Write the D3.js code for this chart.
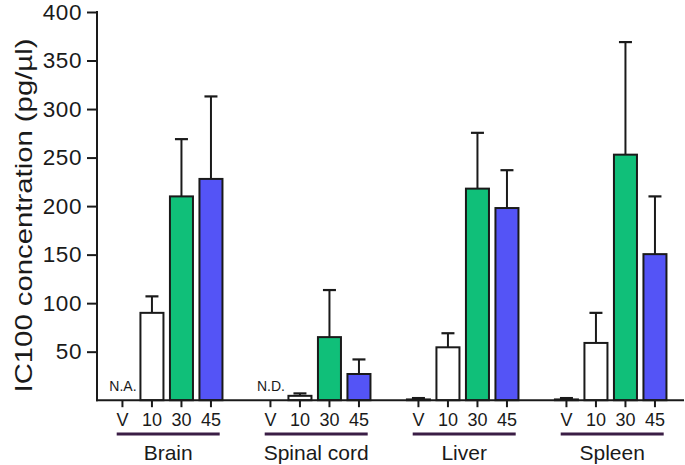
<!DOCTYPE html>
<html><head><meta charset="utf-8">
<script src="https://d3js.org/d3.v7.min.js"></script>
<style>body{margin:0;background:#fff;}svg{display:block;font-family:"Liberation Sans",Arial,sans-serif;}</style>
</head><body><svg id="c" width="685" height="465"></svg>
<script>
const groups = ["Brain", "Spinal cord", "Liver", "Spleen"];
const doses = ["V", "10", "30", "45"];
const doseColors = ["#ffffff", "#ffffff", "#10bf79", "#5454f6"];
// null = not available / not detected
const means = [
  [null, 90, 210, 228],
  [null, 4.5, 65, 27],
  [0.8, 54.5, 218, 198],
  [0.8, 59, 253, 150.5]
];
const errTops = [
  [null, 107, 269, 313],
  [null, 7, 113.5, 42],
  [2.2, 69, 275.5, 237],
  [2.2, 90, 369, 210]
];
const naLabels = ["N.A.", "N.D.", null, null];
const yTicks = [50, 100, 150, 200, 250, 300, 350, 400];
const yLabel = "IC100 concentration (pg/\u00b5l)";

const svg = d3.select("#c");
const y = d3.scaleLinear().domain([0, 400]).range([400.2, 12]);
const x0 = d3.scaleBand().domain(groups).range([92.7, 684.7]).padding(0);
const x1 = d3.scaleBand().domain(doses).range([0, x0.bandwidth()]).paddingInner(0.22).paddingOuter(0.618);
const bw = x1.bandwidth();
const ink = "#1a1a1a";

// y axis
const yAxis = svg.append("g").attr("transform", "translate(97,0)")
  .call(d3.axisLeft(y).tickValues(yTicks).tickSize(10).tickPadding(5).tickFormat(d3.format("d")));
yAxis.select(".domain").remove();
yAxis.selectAll(".tick line").attr("stroke", ink).attr("stroke-width", 2);
yAxis.selectAll(".tick text").attr("font-size", 22.5).attr("fill", ink).attr("font-family", "Liberation Sans, Arial, sans-serif").attr("letter-spacing", 0.6);
svg.append("line").attr("x1", 97).attr("x2", 97).attr("y1", y(400) - 1).attr("y2", y(0) + 1)
  .attr("stroke", ink).attr("stroke-width", 2);

// y label
svg.append("text").attr("transform", `translate(32,${(38 + 393) / 2}) rotate(-90)`)
  .attr("text-anchor", "middle").attr("font-size", 24).attr("fill", ink)
  .attr("textLength", 354).attr("lengthAdjust", "spacingAndGlyphs")
  .text(yLabel);

// bars
groups.forEach((g, gi) => {
  const gx = x0(g);
  doses.forEach((d, di) => {
    const m = means[gi][di];
    const cx = gx + x1(d) + bw / 2;
    if (m !== null) {
      const e = errTops[gi][di];
      svg.append("line").attr("x1", cx).attr("x2", cx).attr("y1", y(m)).attr("y2", y(e))
        .attr("stroke", ink).attr("stroke-width", 2);
      svg.append("line").attr("x1", cx - 6.5).attr("x2", cx + 6.5).attr("y1", y(e)).attr("y2", y(e))
        .attr("stroke", ink).attr("stroke-width", 2.2);
      svg.append("rect").attr("x", gx + x1(d)).attr("y", y(m)).attr("width", bw)
        .attr("height", Math.max(0, y(0) - y(m))).attr("fill", doseColors[di])
        .attr("stroke", ink).attr("stroke-width", 2);
    } else if (naLabels[gi]) {
      svg.append("text").attr("x", cx + 0.5).attr("y", 391).attr("text-anchor", "middle")
        .attr("font-size", 14).attr("fill", ink).text(naLabels[gi]);
    }
    // x tick
    svg.append("line").attr("x1", cx).attr("x2", cx).attr("y1", y(0)).attr("y2", y(0) + 7)
      .attr("stroke", ink).attr("stroke-width", 2);
    svg.append("text").attr("x", cx).attr("y", 426).attr("text-anchor", "middle")
      .attr("font-size", 18).attr("fill", ink).text(d);
  });
  const gc = gx + x0.bandwidth() / 2 + 1.5;
  svg.append("line").attr("x1", gc - 51.5).attr("x2", gc + 51.5).attr("y1", 434).attr("y2", 434)
    .attr("stroke", "#3a1d45").attr("stroke-width", 3);
  svg.append("text").attr("x", gc).attr("y", 459.5).attr("text-anchor", "middle")
    .attr("font-size", 21).attr("fill", ink).text(g);
});

// x axis line
svg.append("line").attr("x1", 96).attr("x2", 684).attr("y1", y(0)).attr("y2", y(0))
  .attr("stroke", ink).attr("stroke-width", 2);
</script></body></html>
